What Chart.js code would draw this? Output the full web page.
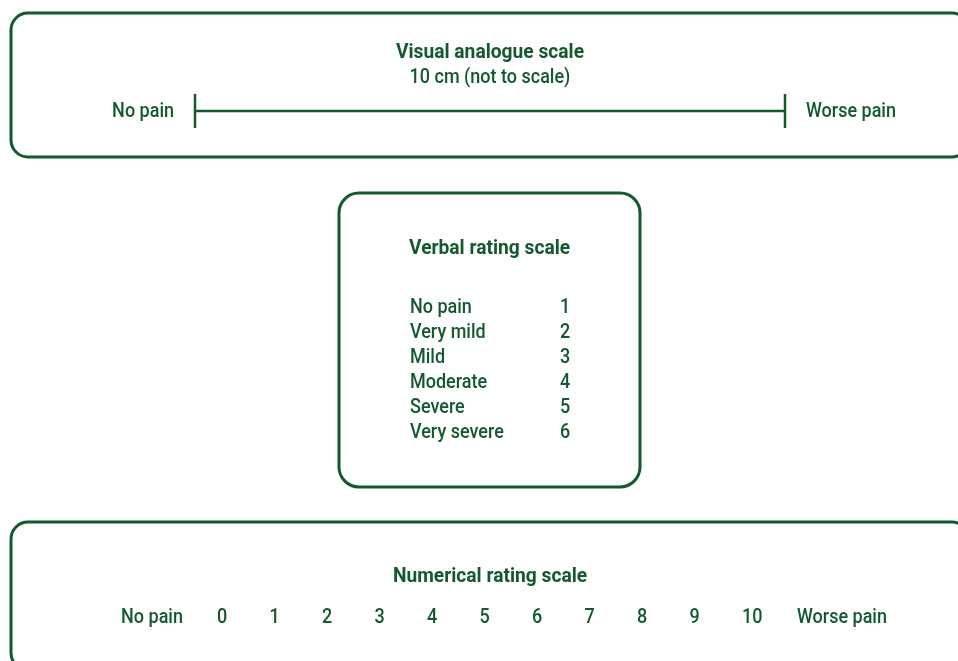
<!DOCTYPE html>
<html>
<head>
<meta charset="utf-8">
<script src="https://cdn.jsdelivr.net/npm/chart.js@4.4.1/dist/chart.umd.min.js"></script>
<style>
  html, body { margin: 0; padding: 0; background: #ffffff; }
  canvas { display: block; }
</style>
</head>
<body>
<canvas id="myChart" width="958" height="661"></canvas>
<script>
// data
const vasTitle = ['Visual analogue scale', '10 cm (not to scale)'];
const vasEnds = ['No pain', 'Worse pain'];
const vasCm = [0, 10];

const vrsTitle = 'Verbal rating scale';
const vrsCategories = ['No pain', 'Very mild', 'Mild', 'Moderate', 'Severe', 'Very severe'];
const vrsScores = [1, 2, 3, 4, 5, 6];

const nrsTitle = 'Numerical rating scale';
const nrsEnds = ['No pain', 'Worse pain'];
const nrsValues = [0, 1, 2, 3, 4, 5, 6, 7, 8, 9, 10];

const green = '#13582f';
const fontFam = 'Roboto, "Liberation Sans", sans-serif';
const W = 958, H = 661;

// hidden scales laid over the whole canvas, mapped so the values land where the picture has them
function span(px0, pxStep, total) {
    const min = -px0 / pxStep;
    return { min: min, max: min + total / pxStep };
}
const vasX = span(195, 59, W);      // 0 cm -> 195px, 10 cm -> 785px
const nrsX = span(217, 52.5, W);    // left edge of "0" at 217px, step 52.5px
const vrsY = span(313 - 25, 25, H); // row 1 baseline -> 313px, step 25px

// condensed look: squeeze Roboto horizontally; y is the text baseline
function drawText(ctx, text, x, y, align, bold) {
    ctx.save();
    ctx.font = (bold ? 'bold ' : '500 ') + '20px ' + fontFam;
    ctx.textAlign = align;
    ctx.textBaseline = 'alphabetic';
    ctx.translate(x, y);
    ctx.scale(bold ? 0.96 : 0.9, 1);
    ctx.fillText(text, 0, 0);
    ctx.restore();
}

const textPlugin = {
    id: 'boxesAndText',
    beforeDatasetsDraw(chart) {
        const ctx = chart.ctx;
        ctx.save();
        ctx.strokeStyle = green;
        ctx.lineWidth = 3;
        [[11, 13, 958, 144, 17], [339, 193, 301, 294, 20], [11, 522, 958, 148, 17]].forEach(b => {
            ctx.beginPath();
            ctx.roundRect(b[0], b[1], b[2], b[3], b[4]);
            ctx.stroke();
        });

        ctx.fillStyle = green;
        drawText(ctx, vasTitle[0], 490, 58, 'center', true);
        drawText(ctx, vasTitle[1], 490, 83, 'center', false);
        drawText(ctx, vasEnds[0], 174, 117, 'right', false);
        drawText(ctx, vasEnds[1], 806, 117, 'left', false);
        drawText(ctx, vrsTitle, 409, 254, 'left', true);
        drawText(ctx, nrsTitle, 490, 582, 'center', true);
        drawText(ctx, nrsEnds[0], 152, 623, 'center', false);
        drawText(ctx, nrsEnds[1], 842, 623, 'center', false);
        ctx.restore();
    },
    afterDatasetsDraw(chart) {
        const ctx = chart.ctx;
        ctx.save();
        ctx.fillStyle = green;
        chart.data.datasets.forEach((ds, i) => {
            if (!ds.texts) return;
            const meta = chart.getDatasetMeta(i);
            meta.data.forEach((pt, j) => {
                drawText(ctx, ds.texts[j], pt.x, pt.y, ds.textAlign, false);
            });
        });
        ctx.restore();
    }
};

new Chart(document.getElementById('myChart').getContext('2d'), {
    type: 'scatter',
    data: {
        datasets: [
            {
                // VAS 10 cm line with end caps
                type: 'line',
                data: vasCm.map(v => ({ x: v, y: 111 })),
                xAxisID: 'xVas',
                yAxisID: 'y',
                borderColor: green,
                borderWidth: 2.5,
                pointStyle: 'line',
                rotation: 90,
                pointRadius: 17,
                pointBorderWidth: 2.5,
                pointBorderColor: green,
                pointHoverRadius: 17
            },
            {
                data: vrsScores.map((s, i) => ({ x: 410, y: i + 1 })),
                texts: vrsCategories,
                textAlign: 'left',
                xAxisID: 'x',
                yAxisID: 'yVrs',
                pointRadius: 0
            },
            {
                data: vrsScores.map((s, i) => ({ x: 565, y: i + 1 })),
                texts: vrsScores.map(String),
                textAlign: 'center',
                xAxisID: 'x',
                yAxisID: 'yVrs',
                pointRadius: 0
            },
            {
                data: nrsValues.map(v => ({ x: v, y: 623 })),
                texts: nrsValues.map(String),
                textAlign: 'left',
                xAxisID: 'xNrs',
                yAxisID: 'y',
                pointRadius: 0
            }
        ]
    },
    options: {
        responsive: false,
        animation: false,
        layout: { padding: 0, autoPadding: false },
        plugins: {
            legend: { display: false },
            tooltip: { enabled: false }
        },
        scales: {
            x: { type: 'linear', display: false, min: 0, max: W },
            xVas: { type: 'linear', display: false, min: vasX.min, max: vasX.max },
            xNrs: { type: 'linear', display: false, min: nrsX.min, max: nrsX.max },
            y: { type: 'linear', display: false, min: 0, max: H, reverse: true },
            yVrs: { type: 'linear', display: false, min: vrsY.min, max: vrsY.max, reverse: true }
        }
    },
    plugins: [textPlugin]
});
</script>
</body>
</html>
